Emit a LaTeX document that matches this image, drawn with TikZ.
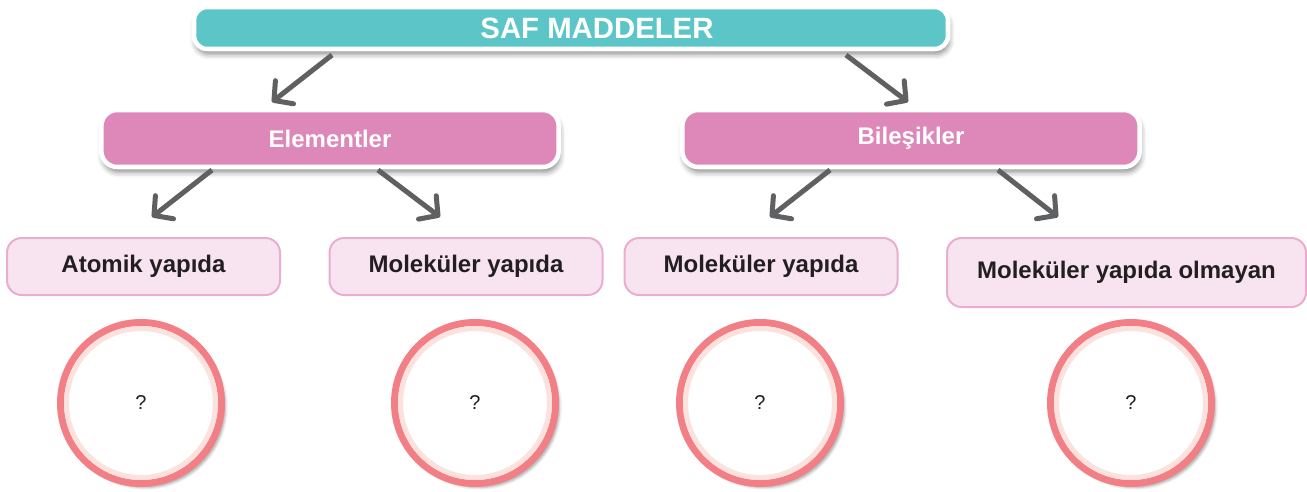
\documentclass[tikz,border=0pt]{standalone}
\usepackage{fontspec}
\setmainfont{Liberation Sans}
\usetikzlibrary{arrows.meta,shadows.blur,calc}
\definecolor{teal1}{HTML}{5BC5C8}
\definecolor{pinkmid}{HTML}{DD88B9}
\definecolor{pinklight}{HTML}{F8E4F0}
\definecolor{pinkborder}{HTML}{E9ADD0}
\definecolor{ringred}{HTML}{F27F86}
\definecolor{ringlight}{HTML}{FDE1DD}
\definecolor{arrowgray}{HTML}{5F6062}
\definecolor{txtdark}{HTML}{231F20}
\begin{document}
\begin{tikzpicture}[x=0.75pt,y=-0.75pt,
  topbox/.style={fill=teal1, draw=white, line width=3.4pt, rounded corners=10pt,
    minimum width=565.5pt, minimum height=31.5pt, inner sep=0pt,
    blur shadow={shadow xshift=1pt, shadow yshift=-4pt, shadow blur radius=4pt, shadow opacity=45}},
  toptext/.style={text=white, font=\fontsize{22}{24}\selectfont\bfseries, inner sep=0pt},
  midbox/.style={fill=pinkmid, draw=white, line width=3.4pt, rounded corners=12pt,
    minimum width=343pt, minimum height=42.75pt, inner sep=0pt,
    text=white, font=\fontsize{18}{20}\selectfont\bfseries,
    blur shadow={shadow xshift=1pt, shadow yshift=-4pt, shadow blur radius=4pt, shadow opacity=45}},
  lowbox/.style={fill=pinklight, draw=pinkborder, line width=1.5pt, rounded corners=11pt,
    minimum width=204.75pt, minimum height=42.75pt, inner sep=0pt,
    text=txtdark, font=\fontsize{18}{20}\selectfont\bfseries},
  ringnode/.style={circle, fill=white, draw=ringred, line width=5.25pt,
    minimum size=120.75pt, inner sep=0pt, text=txtdark, font=\fontsize{15}{17}\selectfont,
    blur shadow={shadow xshift=3pt, shadow yshift=-3pt, shadow blur radius=2pt, shadow opacity=35}},
  innerring/.style={draw=ringlight, line width=3.75pt},
  conn/.style={draw=arrowgray, line width=3.75pt, -{Straight Barb[length=10pt,width=22pt,round]}}
]
\useasboundingbox (0,0) rectangle (1307,492);

% connectors first (under boxes)
\coordinate (a1s) at (332,55);   \coordinate (a1e) at (272,102);
\coordinate (a2s) at (846,55);   \coordinate (a2e) at (908,102);
\coordinate (a3s) at (212,170);  \coordinate (a3e) at (152,217);
\coordinate (a4s) at (378,170);  \coordinate (a4e) at (440,217);
\coordinate (a5s) at (830,170);  \coordinate (a5e) at (770,217);
\coordinate (a6s) at (998,170);  \coordinate (a6e) at (1058,217);

\node[topbox] (top) at (571,28) {};
\node[toptext] (toplabel) at (597,28) {SAF MADDELER};

\node[midbox] (elem) at (330,138.5) {Elementler};
\node[midbox] (bile) at (911,138.5) {Bileşikler};

\draw[conn] (a1s) -- (a1e);
\draw[conn] (a2s) -- (a2e);
\draw[conn] (a3s) -- (a3e);
\draw[conn] (a4s) -- (a4e);
\draw[conn] (a5s) -- (a5e);
\draw[conn] (a6s) -- (a6e);

\node[lowbox] (atom) at (143.5,266.5) {Atomik yapıda};
\node[lowbox] (mol1) at (466,266.5) {Moleküler yapıda};
\node[lowbox] (mol2) at (761,266.5) {Moleküler yapıda};
\node[lowbox, minimum width=269.25pt, minimum height=51.75pt] (olm) at (1126.5,272.5) {Moleküler yapıda olmayan};

\node[ringnode] (c1) at (141,403) {?};
\node[ringnode] (c2) at (475,403) {?};
\node[ringnode] (c3) at (760,403) {?};
\node[ringnode] (c4) at (1131,403) {?};
\foreach \c in {c1,c2,c3,c4}{
  \draw[innerring] (\c.center) circle[radius=74.5];
}
\end{tikzpicture}
\end{document}
